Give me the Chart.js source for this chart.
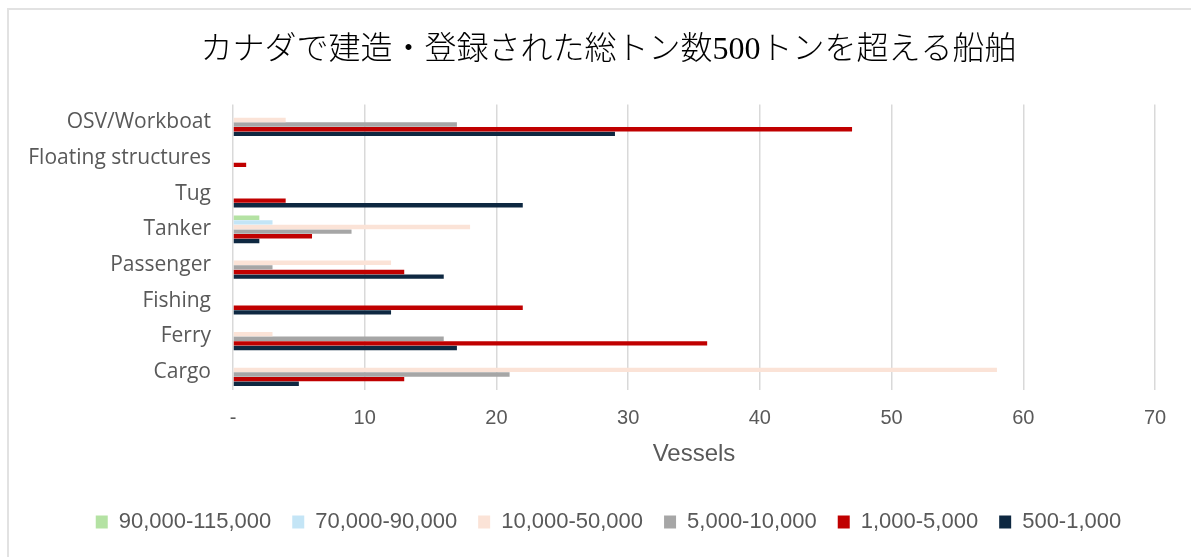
<!DOCTYPE html>
<html>
<head>
<meta charset="utf-8">
<script src="https://cdn.jsdelivr.net/npm/chart.js@4.4.1/dist/chart.umd.min.js"></script>
<style>
  html, body { margin:0; padding:0; background:#fff; overflow:hidden; }
  #frame { position:absolute; left:7px; top:8px; width:1300px; height:700px; border:2px solid #e2e2e2; box-sizing:border-box; }
  #wrap { position:absolute; left:0; top:0; width:1191px; height:557px; }
</style>
</head>
<body>
<div id="frame"></div>
<div id="wrap"><canvas id="shipChart"></canvas></div>
<script>
// 船種（上から順）
const shipTypes = ['OSV/Workboat', 'Floating structures', 'Tug', 'Tanker', 'Passenger', 'Fishing', 'Ferry', 'Cargo'];

// 総トン数区分ごとの隻数
const gt90kTo115k = [0, 0, 0, 2, 0, 0, 0, 0];
const gt70kTo90k  = [0, 0, 0, 3, 0, 0, 0, 0];
const gt10kTo50k  = [4, 0, 0, 18, 12, 0, 3, 58];
const gt5kTo10k   = [17, 0, 0, 9, 3, 0, 16, 21];
const gt1kTo5k    = [47, 1, 4, 6, 13, 22, 36, 13];
const gt500To1k   = [29, 0, 22, 2, 16, 12, 17, 5];

const xTicks = [0, 10, 20, 30, 40, 50, 60, 70];

const series = [
  { label:'90,000-115,000', data:gt90kTo115k, color:'#b4e2a3' },
  { label:'70,000-90,000',  data:gt70kTo90k,  color:'#c4e5f6' },
  { label:'10,000-50,000',  data:gt10kTo50k,  color:'#fbe3d7' },
  { label:'5,000-10,000',   data:gt5kTo10k,   color:'#a6a6a6' },
  { label:'1,000-5,000',    data:gt1kTo5k,    color:'#c00000' },
  { label:'500-1,000',      data:gt500To1k,   color:'#0e2841' }
];

const grey = '#595959';

new Chart(document.getElementById('shipChart'), {
  type: 'bar',
  data: {
    labels: shipTypes,
    datasets: series.map(s => ({
      label: s.label, data: s.data,
      backgroundColor: s.color, borderWidth: 0,
      categoryPercentage: 0.78, barPercentage: 0.95
    }))
  },
  options: {
    indexAxis: 'y',
    responsive: true,
    maintainAspectRatio: false,
    animation: false,
    layout: { padding: { left: 26, right: 0, top: 0, bottom: 14 } },
    plugins: {
      title: {
        display: true,
        text: 'カナダで建造・登録された総トン数500トンを超える船舶',
        color: '#000',
        font: { family: '"Liberation Serif", "Noto Sans CJK JP"', size: 32, weight: '300' },
        padding: { top: 31, bottom: 35 }
      },
      legend: {
        position: 'bottom',
        labels: {
          color: grey,
          boxWidth: 12, boxHeight: 13,
          padding: 21,
          font: { family: '"Liberation Sans", Arial', size: 22 }
        }
      },
      tooltip: { enabled: false }
    },
    scales: {
      x: {
        min: 0, max: 70,
        afterBuildTicks: s => { s.ticks = xTicks.map(v => ({ value: v })); },
        afterFit: s => { s.height = 100; },
        grid: { color: '#d9d9d9', lineWidth: 1.5, drawTicks: false },
        border: { display: false },
        ticks: {
          color: grey, padding: 16,
          font: { family: '"Liberation Sans", Arial', size: 20 },
          callback: v => v === 0 ? '-' : v
        },
        title: {
          display: true, text: 'Vessels', color: grey,
          font: { family: '"Liberation Sans", Arial', size: 24 },
          padding: { top: 0, bottom: 21 }
        }
      },
      y: {
        afterFit: s => { s.width = 207; },
        grid: { display: false, drawTicks: false },
        border: { display: false },
        ticks: {
          color: grey, padding: 22,
          font: { family: '"Open Sans"', size: 21 }
        }
      },
      yRight: {
        position: 'right',
        afterFit: s => { s.width = 36; },
        grid: { display: false, drawTicks: false },
        border: { display: false },
        ticks: { display: false }
      }
    }
  }
});
</script>
</body>
</html>
